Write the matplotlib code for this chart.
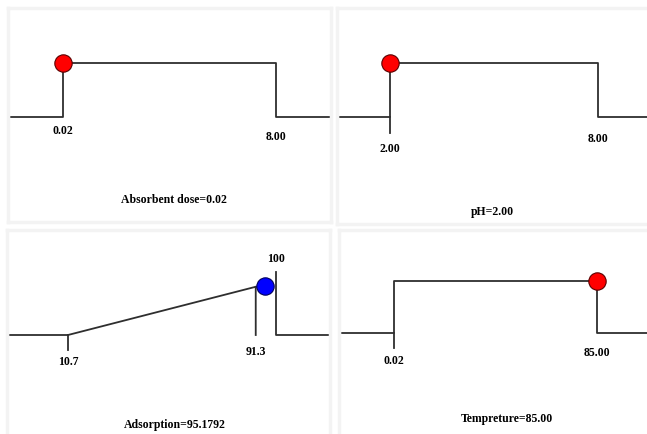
import numpy as np
import matplotlib
matplotlib.use('Agg')
import matplotlib.pyplot as plt

# ---------------------------------------------------------------- data
titles = ['Absorbent dose=0.02', 'pH=2.00', 'Adsorption=95.1792',
          'Tempreture=85.00']
lows = [0.02, 2.00, 10.7, 0.02]
highs = [8.00, 8.00, 100, 85.00]
low_labels = ['0.02', '2.00', '10.7', '0.02']
high_labels = ['8.00', '8.00', '100', '85.00']
current = [0.02, 2.00, 95.1792, 85.00]
current_des = [1.0, 1.0, 0.93, 1.0]
dot_colors = ['#ff0000', '#ff0000', '#0000ff', '#ff0000']

# response panel: ramp ends at observed max 91.3
ramp_x = [10.7, 91.3]
ramp_y = [0.0, 0.91]
obs_label = '91.3'
high_line_top = 1.19

# ---------------------------------------------------------------- layout (pixels)
W, H = 647, 434
boxes = [(8, 8, 331, 222), (337, 8, 652, 224),
         (7, 230, 330, 440), (339, 230, 652, 440)]
base_px = [117, 117, 335, 333]
top_px = [63, 63, 282, 281]
lo_px = [63, 390, 68, 394]
hi_px = [276, 598, 276, 597]
tick_drop = [0, 16, 15, 15]
lo_lab_off = [14, 32, 27, 28]
hi_lab_off = [20, 22, -76, 20]
title_xy = [(174, 200), (492, 212), (175, 425), (507, 419)]

plt.rcParams['font.family'] = ['Liberation Serif', 'DejaVu Serif']
LC = '#2e2e2e'
LW = 1.3
FS = 8.5

fig = plt.figure(figsize=(W / 100, H / 100), dpi=100)

for k in range(4):
    x0, y0, x1, y1 = boxes[k]
    ax = fig.add_axes([x0 / W, 1 - y1 / H, (x1 - x0) / W, (y1 - y0) / H])
    lo, hi = lows[k], highs[k]
    sx = (hi_px[k] - lo_px[k]) / (hi - lo)
    ax.set_xlim(lo - (lo_px[k] - x0) / sx, lo + (x1 - lo_px[k]) / sx)
    sy = base_px[k] - top_px[k]
    ax.set_ylim(-(y1 - base_px[k]) / sy, 1 + (top_px[k] - y0) / sy)
    xmin, xmax = ax.get_xlim()
    x_left = lo - (lo_px[k] - x0 - 3) / sx
    x_right = xmax
    drop = -tick_drop[k] / sy

    if k != 2:
        ax.plot([x_left, lo, lo, hi, hi, x_right],
                [0, 0, 1, 1, 0, 0], color=LC, lw=LW)
        if drop < 0:
            ax.plot([lo, lo], [0, drop], color=LC, lw=LW)
    else:
        ax.plot([x_left, ramp_x[0]], [0, 0], color=LC, lw=LW)
        ax.plot([ramp_x[0], ramp_x[0]], [0, drop], color=LC, lw=LW)
        ax.plot([ramp_x[0], ramp_x[1], ramp_x[1]],
                [0, ramp_y[1], 0], color=LC, lw=LW)
        ax.plot([ramp_x[1], current[k]], [ramp_y[1], current_des[k]],
                color=LC, lw=LW)
        ax.plot([hi, hi, x_right], [high_line_top, 0, 0], color=LC, lw=LW)
        ax.annotate(obs_label, xy=(ramp_x[1], 0), xytext=(0, -17),
                    textcoords='offset pixels', ha='center', va='center',
                    fontsize=FS, fontweight='bold')

    ax.plot(current[k], current_des[k], 'o', ms=12.5,
            color=dot_colors[k], mec='#5a0000' if k != 2 else '#00005a',
            mew=0.8, zorder=5)

    ax.annotate(low_labels[k], xy=(lo, 0), xytext=(0, -lo_lab_off[k]),
                textcoords='offset pixels', ha='center', va='center',
                fontsize=FS, fontweight='bold')
    ax.annotate(high_labels[k], xy=(hi, 0), xytext=(0, -hi_lab_off[k]),
                textcoords='offset pixels', ha='center', va='center',
                fontsize=FS, fontweight='bold')

    ax.set_xticks([])
    ax.set_yticks([])
    for s in ax.spines.values():
        s.set_color('#f3f3f3')
        s.set_linewidth(2.5)

    tx, ty = title_xy[k]
    fig.text(tx / W, 1 - ty / H, titles[k], ha='center', va='center',
             fontsize=FS, fontweight='bold')

fig.savefig('out.png', dpi=100)
